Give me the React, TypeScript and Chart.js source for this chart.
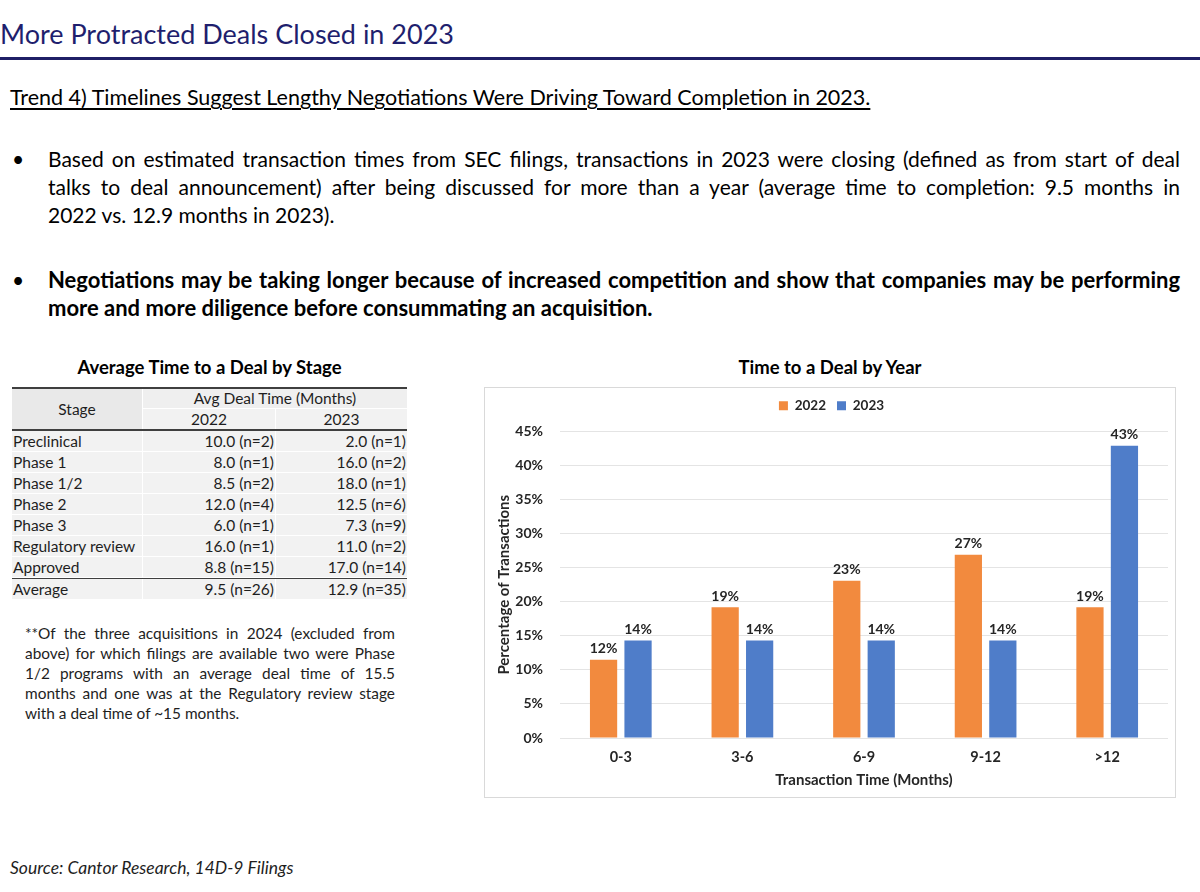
import React, { useEffect, useRef } from 'react';
import { Chart, registerables } from 'chart.js';

Chart.register(...registerables);

// ---- chart data ----
const categories = ['0-3', '3-6', '6-9', '9-12', '>12'];
const values2022 = [11.5, 19.2, 23.1, 26.9, 19.2];
const values2023 = [14.3, 14.3, 14.3, 14.3, 42.9];
const seriesLabels = ['2022', '2023'];
const yMax = 45;
const yStep = 5;

// ---- table data ----
const stages = ['Preclinical', 'Phase 1', 'Phase 1/2', 'Phase 2', 'Phase 3', 'Regulatory review', 'Approved'];
const time2022 = ['10.0 (n=2)', '8.0 (n=1)', '8.5 (n=2)', '12.0 (n=4)', '6.0 (n=1)', '16.0 (n=1)', '8.8 (n=15)'];
const time2023 = ['2.0 (n=1)', '16.0 (n=2)', '18.0 (n=1)', '12.5 (n=6)', '7.3 (n=9)', '11.0 (n=2)', '17.0 (n=14)'];
const averageRow = ['Average', '9.5 (n=26)', '12.9 (n=35)'];

const FONT = 'Lato, "Liberation Sans", Arial, sans-serif';
const ORANGE = '#F28A3E';
const BLUE = '#4F7DC9';
const TEXT = '#262626';

function BarChart() {
  const ref = useRef<HTMLCanvasElement>(null);
  useEffect(() => {
    const legendSpacing = {
      id: 'legendSpacing',
      beforeInit(chart: any) {
        const l = chart.legend;
        if (!l) return;
        const orig = l.fit;
        l.fit = function () {
          orig.call(this);
          this.height += 9;
        };
      },
    };
    const barLabels = {
      id: 'barLabels',
      afterDatasetsDraw(chart: any) {
        const ctx = chart.ctx;
        ctx.save();
        ctx.font = `bold 14px ${FONT}`;
        ctx.fillStyle = TEXT;
        ctx.textAlign = 'center';
        ctx.textBaseline = 'bottom';
        chart.data.datasets.forEach((ds: any, i: number) => {
          const meta = chart.getDatasetMeta(i);
          meta.data.forEach((bar: any, j: number) => {
            const v = ds.data[j] as number;
            ctx.fillText(`${Math.round(v)}%`, bar.x, bar.y - 4);
          });
        });
        ctx.restore();
      },
    };
    const tickFont = { family: FONT, size: 14, weight: 'bold' as const };
    const catFont = { family: FONT, size: 14.5, weight: 'bold' as const };
    const titleFont = { family: FONT, size: 15, weight: 'bold' as const };
    const legendFont = { family: FONT, size: 13.5, weight: 'bold' as const };
    const chart = new Chart(ref.current!, {
      type: 'bar',
      data: {
        labels: categories,
        datasets: [
          { label: seriesLabels[0], data: values2022, backgroundColor: ORANGE, categoryPercentage: 0.567, barPercentage: 0.79 },
          { label: seriesLabels[1], data: values2023, backgroundColor: BLUE, categoryPercentage: 0.567, barPercentage: 0.79 },
        ],
      },
      options: {
        responsive: false,
        animation: false,
        layout: { padding: { left: 10, right: 7, top: 0, bottom: 0 } },
        plugins: {
          legend: {
            position: 'top',
            labels: { boxWidth: 9, boxHeight: 9, padding: 11, font: legendFont, color: TEXT },
          },
          tooltip: { enabled: false },
        },
        scales: {
          x: {
            afterFit: (scale: any) => {
              scale.height = 59;
            },
            grid: { display: false, drawTicks: false },
            border: { display: false },
            ticks: { font: catFont, color: TEXT, padding: 11 },
            title: { display: true, text: 'Transaction Time (Months)', font: titleFont, color: TEXT, padding: { top: 5, bottom: 8 } },
          },
          y: {
            min: 0,
            max: yMax,
            afterFit: (scale: any) => {
              scale.width = 65;
            },
            ticks: { stepSize: yStep, callback: (v: any) => `${v}%`, font: tickFont, color: TEXT, padding: 17 },
            grid: { color: '#E4E4E4', drawTicks: false },
            border: { display: false },
            title: { display: true, text: 'Percentage of Transactions', font: titleFont, color: TEXT, padding: { top: 0, bottom: 0 } },
          },
        },
      },
      plugins: [legendSpacing, barLabels],
    });
    return () => chart.destroy();
  }, []);
  return <canvas ref={ref} width={690} height={409} style={{ display: 'block' }} />;
}

const abs = (left: number, top: number, extra: React.CSSProperties = {}): React.CSSProperties => ({
  position: 'absolute',
  left,
  top,
  ...extra,
});

function JLine({ text, last, style }: { text: string; last?: boolean; style?: React.CSSProperties }) {
  return (
    <div style={{ textAlign: last ? 'left' : 'justify', textAlignLast: last ? 'left' : 'justify', whiteSpace: 'nowrap', ...style }}>
      {text}
    </div>
  );
}

const bullet1 = [
  'Based on estimated transaction times from SEC filings, transactions in 2023 were closing (defined as from start of deal',
  'talks to deal announcement) after being discussed for more than a year (average time to completion: 9.5 months in',
  '2022 vs. 12.9 months in 2023).',
];
const bullet2 = [
  'Negotiations may be taking longer because of increased competition and show that companies may be performing',
  'more and more diligence before consummating an acquisition.',
];
const footnote = [
  '**Of the three acquisitions in 2024 (excluded from',
  'above) for which filings are available two were Phase',
  '1/2 programs with an average deal time of 15.5',
  'months and one was at the Regulatory review stage',
  'with a deal time of ~15 months.',
];

function Table() {
  const c1 = 131, c2 = 133, c3 = 131;
  const rowH = 21;
  const cell: React.CSSProperties = { boxSizing: 'border-box', height: rowH, lineHeight: `${rowH - 1}px`, background: '#F2F2F2', borderBottom: '1px solid #fff', whiteSpace: 'nowrap' };
  return (
    <div style={abs(12, 387, { width: c1 + c2 + c3, fontSize: 15.5, color: '#1E1E1E' })}>
      <div style={{ height: 2, background: '#3F3F3F' }} />
      <div style={{ display: 'flex', height: 40 }}>
        <div style={{ width: c1, background: '#E9E9E9', borderRight: '1px solid #fff', boxSizing: 'border-box', display: 'flex', alignItems: 'center', justifyContent: 'center' }}>Stage</div>
        <div style={{ width: c2 + c3 }}>
          <div style={{ height: 20, lineHeight: '19px', textAlign: 'center', background: '#EFEFEF', borderBottom: '1px solid #fff', boxSizing: 'border-box' }}>Avg Deal Time (Months)</div>
          <div style={{ display: 'flex', height: 20, lineHeight: '20px', background: '#F2F2F2' }}>
            <div style={{ width: c2, textAlign: 'center', borderRight: '1px solid #fff', boxSizing: 'border-box' }}>2022</div>
            <div style={{ width: c3, textAlign: 'center' }}>2023</div>
          </div>
        </div>
      </div>
      <div style={{ height: 2, background: '#3F3F3F' }} />
      {stages.map((s, i) => (
        <div key={s} style={{ display: 'flex' }}>
          <div style={{ ...cell, width: c1, paddingLeft: 1, borderRight: '1px solid #fff' }}>{s}</div>
          <div style={{ ...cell, width: c2, textAlign: 'right', paddingRight: 1, borderRight: '1px solid #fff' }}>{time2022[i]}</div>
          <div style={{ ...cell, width: c3, textAlign: 'right', paddingRight: 1 }}>{time2023[i]}</div>
        </div>
      ))}
      <div style={{ height: 2, background: '#3F3F3F', marginTop: -1 }} />
      <div style={{ display: 'flex' }}>
        <div style={{ ...cell, width: c1, paddingLeft: 1, borderRight: '1px solid #fff' }}>{averageRow[0]}</div>
        <div style={{ ...cell, width: c2, textAlign: 'right', paddingRight: 1, borderRight: '1px solid #fff' }}>{averageRow[1]}</div>
        <div style={{ ...cell, width: c3, textAlign: 'right', paddingRight: 1 }}>{averageRow[2]}</div>
      </div>
    </div>
  );
}

export default function App() {
  return (
    <div style={{ position: 'absolute', left: 0, top: 0, width: 1200, height: 892, background: '#fff', fontFamily: FONT, color: '#000', overflow: 'hidden' }}>
      <div style={abs(0, 19, { fontSize: 27, lineHeight: '30px', color: '#1F1F6E', whiteSpace: 'nowrap' })}>More Protracted Deals Closed in 2023</div>
      <div style={abs(0, 57, { width: 1200, height: 3, background: '#1F1F66' })} />
      <div style={abs(10, 85, { fontSize: 21.5, lineHeight: '24px', textDecoration: 'underline', textUnderlineOffset: 3, whiteSpace: 'nowrap' })}>
        Trend 4) Timelines Suggest Lengthy Negotiations Were Driving Toward Completion in 2023.
      </div>

      <div style={abs(12, 145, { fontSize: 21, lineHeight: '28px' })}>•</div>
      <div style={abs(48, 145, { width: 1132, fontSize: 21, lineHeight: '28px' })}>
        {bullet1.map((t, i) => <JLine key={i} text={t} last={i === bullet1.length - 1} />)}
      </div>
      <div style={abs(12, 266, { fontSize: 21, lineHeight: '28px' })}>•</div>
      <div style={abs(48, 266, { width: 1132, fontSize: 22, lineHeight: '28px', fontWeight: 'bold' })}>
        {bullet2.map((t, i) => <JLine key={i} text={t} last={i === bullet2.length - 1} />)}
      </div>

      <div style={abs(12, 355, { width: 395, textAlign: 'center', fontSize: 18.5, fontWeight: 'bold', lineHeight: '24px' })}>Average Time to a Deal by Stage</div>
      <Table />

      <div style={abs(25, 623, { width: 370, fontSize: 15.4, lineHeight: '20px', color: '#1E1E1E' })}>
        {footnote.map((t, i) => <JLine key={i} text={t} last={i === footnote.length - 1} />)}
      </div>

      <div style={abs(10, 856, { fontSize: 17.5, fontStyle: 'italic', lineHeight: '24px', color: '#1E1E1E', whiteSpace: 'nowrap' })}>Source: Cantor Research, 14D-9 Filings</div>

      <div style={abs(484, 355, { width: 692, textAlign: 'center', fontSize: 18.5, fontWeight: 'bold', lineHeight: '24px' })}>Time to a Deal by Year</div>
      <div style={abs(484, 387, { width: 692, height: 411, boxSizing: 'border-box', border: '1px solid #D9D9D9' })}>
        <BarChart />
      </div>
    </div>
  );
}
